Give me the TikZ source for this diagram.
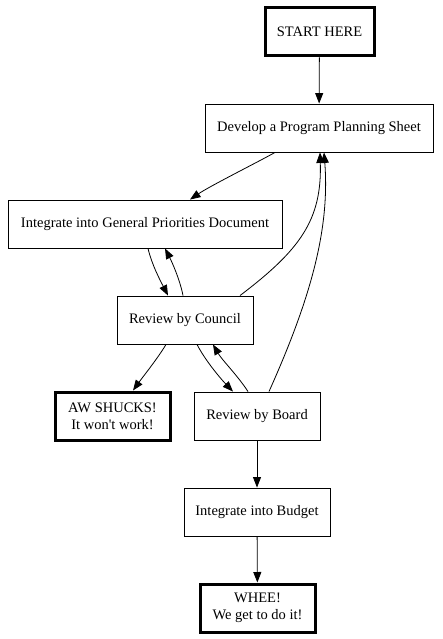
\documentclass[tikz,border=0pt]{standalone}
\usepackage{fontspec}
\setmainfont{Liberation Serif}
\usetikzlibrary{arrows.meta}
\begin{document}
\begin{tikzpicture}[x=1pt,y=-1pt,
  box/.style={draw, line width=0.9pt, rectangle, inner sep=2pt, align=center,
    minimum height=48pt, font=\fontsize{14.5}{17}\selectfont},
  thickbox/.style={box, line width=3pt},
  edge/.style={draw, line width=0.8pt, -{Triangle[length=10.5pt,width=8pt]}}]
\useasboundingbox (0,0) rectangle (442,639);
\node[thickbox, minimum width=109pt] (start) at (319.5,32) {START HERE};
\node[box, minimum width=228pt] (dev) at (319,128) {Develop a Program Planning Sheet};
\node[box, minimum width=274pt] (integ) at (145,224) {Integrate into General Priorities Document};
\node[box, minimum width=136pt] (council) at (185,320) {Review by Council};
\node[thickbox, minimum width=115pt] (aw) at (112.5,416) {AW SHUCKS!\\It won\textquotesingle t work!};
\node[box, minimum width=126pt] (board) at (257,416) {Review by Board};
\node[box, minimum width=146pt] (budget) at (257,512) {Integrate into Budget};
\node[thickbox, minimum width=115pt] (whee) at (257.5,608) {WHEE!\\We get to do it!};

\draw[edge] (start) -- (dev);
\draw[edge] ([xshift=-44pt]dev.south) .. controls (258,162) and (210,186) .. ([xshift=45pt]integ.north);
\draw[edge] ([xshift=3pt]integ.south) .. controls (152,265) and (160,280) .. ([xshift=-17pt]council.north);
\draw[edge] ([xshift=-2pt]council.north) .. controls (180,280) and (172,262) .. ([xshift=20pt]integ.south);
\draw[edge] ([xshift=55pt]council.north) .. controls (300,250) and (322,220) .. ([xshift=1pt]dev.south);
\draw[edge] ([xshift=12pt]board.north) .. controls (310,300) and (330,230) .. ([xshift=5pt]dev.south);
\draw[edge] ([xshift=-19pt]council.south) .. controls (158,358) and (142,378) .. ([xshift=20.5pt]aw.north);
\draw[edge] ([xshift=12pt]council.south) .. controls (205,360) and (220,378) .. ([xshift=-24pt]board.north);
\draw[edge] ([xshift=-9pt]board.north) .. controls (238,376) and (222,360) .. ([xshift=28pt]council.south);
\draw[edge] (board) -- (budget);
\draw[edge] (budget) -- (whee);
\end{tikzpicture}
\end{document}
